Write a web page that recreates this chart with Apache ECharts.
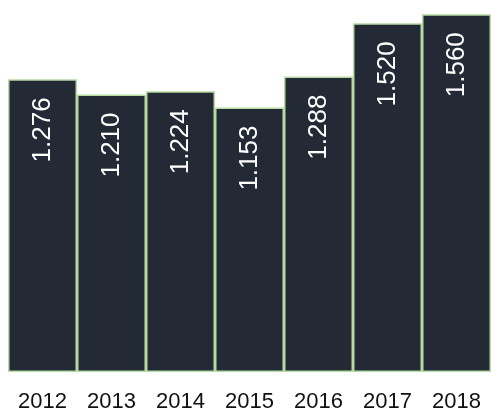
<!DOCTYPE html>
<html>
<head>
<meta charset="utf-8">
<script src="https://cdn.jsdelivr.net/npm/echarts@6/dist/echarts.min.js"></script>
<style>html,body{margin:0;padding:0;background:#fff;}#c{width:491px;height:410px;}</style>
</head>
<body>
<div id="c"></div>
<script>
const categories = ['2012', '2013', '2014', '2015', '2016', '2017', '2018'];
const values = [1.276, 1.210, 1.224, 1.153, 1.288, 1.520, 1.560];

const chart = echarts.init(document.getElementById('c'), null, {renderer: 'canvas'});
chart.setOption({
  animation: false,
  grid: {left: 8, right: 0, top: 5, bottom: 38, containLabel: false, outerBoundsMode: 'none'},
  xAxis: {
    type: 'category',
    data: categories,
    axisLine: {show: false},
    axisTick: {show: false},
    axisLabel: {color: '#111111', fontSize: 22, fontFamily: 'Liberation Sans, Arial, sans-serif', margin: 19}
  },
  yAxis: {
    type: 'value', min: 0, max: 1.6, show: false, splitLine: {show: false}
  },
  series: [{
    type: 'bar',
    data: values,
    barCategoryGap: '0%',
    itemStyle: {color: '#232a36', borderColor: '#b7d9a2', borderWidth: 1.5},
    label: {
      show: true,
      position: 'insideTop',
      rotate: 90,
      align: 'right',
      verticalAlign: 'middle',
      distance: 18,
      color: '#ffffff',
      fontSize: 26,
      fontFamily: 'Liberation Sans, Arial, sans-serif',
      formatter: p => p.value.toFixed(3)
    }
  }]
});
</script>
</body>
</html>
